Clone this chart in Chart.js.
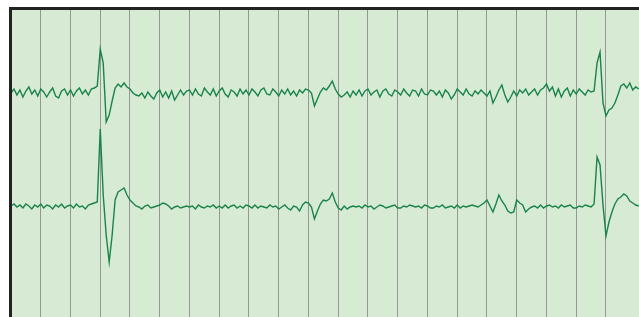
<!DOCTYPE html>
<html>
<head>
<meta charset="utf-8">
<script src="https://cdn.jsdelivr.net/npm/chart.js@4.4.1/dist/chart.umd.min.js"></script>
<style>
  html, body { margin: 0; padding: 0; background: #fff; }
  canvas { display: block; }
</style>
</head>
<body>
<canvas id="ecgCht" width="639" height="317"></canvas>
<script>
// sample spacing in grid divisions (one vertical grid line per division)
const sampleStep = 0.1;
const gridDivisions = 21.11;

// channel baselines, same units as the y scale
const baseline1 = 224;
const baseline2 = 110;

// top channel, deviation from baseline (up is positive)
const channel1 = [
    0, 4, -2, 3, -4, 2, 6, -1, 3, -3, 4, 1, -4, 1, 5, -3, -5, 2, 4, -2, 3, -3, 2, 5, -1, 3, -2, 4, 5,
    7, 44, 30, -29, -22, -8, 5, 9, 6, 10, 6, 4, 0, -2,
    -3, 0, -5, 1, -3, -6, 0, 3, -4, 1, -5, 2, -7, -2, 3, -2, 2,
    3, -2, 4, -1, -3, 5, 1, -2, 4, -3, 2, 5, -1, -4, 3, 1, -3, 4, -1, 3,
    -2, 4, 1, -3, 3, 5, -1, -2, 4, 1, -3, 3, -1, 4, -2, 2, -3, 3, 0, 4,
    3, 0, -13, -6, 1, 5, 3, 7, 12, 4, -1, -4, -2, 1, -4, 2,
    -2, 3, -3, 2, 4, -2, 1, 3, -4, 2, 4, -1, -3, 3, 1, -2, 4, 0, -3, 3,
    2, -3, 4, -1, -2, 3, 2, -2, 2, -4, 3, 0, -6, -2, 4, 1, -2, 4, -1, -3,
    2, -1, 3, 0, -3, 2, -10, -4, 3, 8, -2, -9, -4, 2, -3, 3, 0, 4, -2, 1,
    4, -2, 3, 5, 9, 2, 6, -3, 4, -4, 2, 5, -3, 3, -1, 4, 1, -2, 3, 1,
    2, 30, 41, -10, -23, -17, -15, -10, -2, 7, 9, 5, 10, 3, 6, 4
];

// bottom channel, deviation from baseline (up is positive)
const channel2 = [
    1, 3, 0, 2, -1, 3, 1, -2, 2, 0, 3, -1, 2, 1, -2, 2, 0, 3, -1, 1, 2, -1, 3, 0, 1, -2, 2, 3, 4,
    5, 78, 12, -28, -55, -28, 7, 15, 17, 19, 12, 7, 4, 1,
    0, -2, 1, 2, -1, 0, 1, 2, 4, 3, 1, -2, 0, 1, -1, 0, 1,
    0, 1, -2, 2, 0, -1, 1, 0, 2, -1, 1, -1, 2, -1, 1, 2, -1, 1, -1, 2,
    1, -1, 2, -1, 1, 0, -1, 2, 0, 1, -2, 0, 2, -1, -3, 1, 0, -4, 2, 5,
    4, 0, -12, -4, 3, 7, 6, 8, 14, 5, -1, -3, 1, -2, 0, 1,
    0, 1, -1, 2, 0, 1, -2, 0, 2, 1, -1, 0, 1, 2, -1, -1, 1, 0, 2, 1,
    0, 1, -1, 2, 1, -1, -1, 1, 0, 2, -1, 0, 1, -1, 2, -1, 1, 0, 1, 2,
    1, 0, 2, 4, 7, 1, -5, 3, 12, 6, 2, -4, -6, -5, 7, 4, 2, -5, -2, 0,
    1, -1, 2, -1, 1, 2, 0, 1, -1, 2, 0, 1, 2, -1, -1, 1, 0, 2, 1, 0,
    3, 50, 42, 2, -29, -15, -5, 3, 8, 10, 13, 11, 6, 4, 2, 1
];

function toPoints(vals, base) {
    return vals.map(function(v, i) {
        return { x: i * sampleStep, y: base + v };
    });
}

// green paper + dark frame on left and top
const paper = {
    id: 'paper',
    beforeDraw(chart) {
        const c = chart.ctx, a = chart.chartArea;
        c.save();
        c.fillStyle = '#d6ead4';
        c.fillRect(a.left, a.top, a.right - a.left, a.bottom - a.top);
        c.restore();
    },
    afterDraw(chart) {
        const c = chart.ctx;
        c.save();
        c.fillStyle = '#222';
        c.fillRect(9, 7, 3, 310);
        c.fillRect(9, 7, 630, 3);
        c.restore();
    }
};

var ctx = document.getElementById('ecgCht');
var ecgChart = new Chart(ctx, {
    type: 'line',
    data: {
        datasets: [{
            data: toPoints(channel1, baseline1),
            borderColor: '#19834a',
            borderWidth: 1.4,
            pointRadius: 0,
            tension: 0
        }, {
            data: toPoints(channel2, baseline2),
            borderColor: '#19834a',
            borderWidth: 1.4,
            pointRadius: 0,
            tension: 0
        }]
    },
    options: {
        responsive: false,
        animation: false,
        events: [],
        layout: { padding: { left: 11, top: 10, right: 0, bottom: 0 } },
        plugins: { legend: { display: false }, tooltip: { enabled: false } },
        scales: {
            x: {
                type: 'linear',
                min: 0,
                max: gridDivisions,
                ticks: { display: false, stepSize: 1 },
                grid: { color: '#969696', lineWidth: 1, drawTicks: false },
                border: { display: false }
            },
            y: {
                display: false,
                min: 0,
                max: 307
            }
        }
    },
    plugins: [paper]
});
</script>
</body>
</html>
